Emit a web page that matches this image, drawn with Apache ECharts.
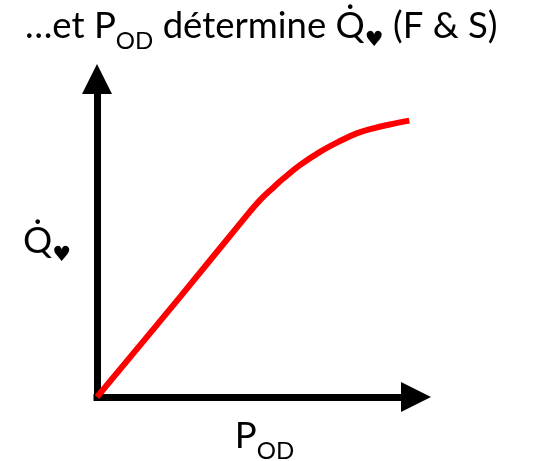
<!DOCTYPE html>
<html><head><meta charset="utf-8">
<style>html,body{margin:0;padding:0;background:#fff}#c{width:542px;height:461px}</style>
<script src="https://cdn.jsdelivr.net/npm/echarts@6/dist/echarts.min.js"></script>
</head><body><div id="c"></div>
<script>
const xValues=[0,26.0,45.8,51.1,55.3,58.4,63.6,69.9,76.2,81.4,86.6,91.8,97.9];
const yValues=[0,31.4,55.7,61.9,65.9,68.7,72.9,77.1,80.5,82.9,84.5,85.7,86.9];
const titleText='{t|…et P}{s|OD}{t| détermine Q̇}{h|♥}{t| (F & S)}';
const xName='{t|P}{s|OD}';
const yName='{t|Q̇}{h|♥}';
const F='Lato';
const rich={
 t:{fontFamily:F,fontWeight:'normal',fontSize:36.5,color:'#000',lineHeight:44,verticalAlign:'bottom'},
 s:{fontFamily:F,fontWeight:'normal',fontSize:24,color:'#000',lineHeight:30,verticalAlign:'bottom',padding:[0,0,-8,0]},
 h:{fontFamily:'DejaVu Sans',fontWeight:'normal',fontSize:21,color:'#000',lineHeight:30,verticalAlign:'bottom',padding:[0,0,-6,0]}
};
const axisBase={type:'value',min:0,max:100,splitLine:{show:false},axisTick:{show:false},axisLabel:{show:false},
 nameLocation:'middle',nameRotate:0,nameTextStyle:{rich},
 axisLine:{show:true,onZero:false,lineStyle:{color:'#000',width:7,cap:'square'},symbol:['none','triangle'],symbolSize:[30,30]}};
const chart=echarts.init(document.getElementById('c'),null,{renderer:'canvas'});
chart.setOption({animation:false,backgroundColor:'#fff',
 title:{text:titleText,left:20,top:-4,textStyle:{rich}},
 grid:{left:97,right:126,top:79,bottom:64,outerBoundsMode:'none'},
 xAxis:Object.assign({},axisBase,{name:xName,nameGap:14,nameTextStyle:{rich,padding:[0,0,0,16]}}),
 yAxis:Object.assign({},axisBase,{name:yName,nameGap:26}),
 series:[{type:'line',data:xValues.map((x,i)=>[x,yValues[i]]),smooth:0.4,symbol:'none',clip:false,
  lineStyle:{color:'#ff0000',width:6,cap:'butt'}}]
});
</script></body></html>
